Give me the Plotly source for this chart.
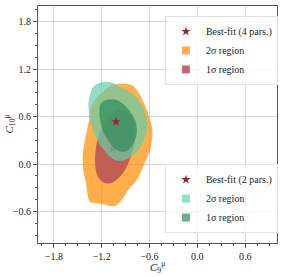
import plotly.graph_objects as go

# ---- data ----
orange_x = [-1.011, -0.823, -0.76, -0.677, -0.634, -0.572, -0.564, -0.593, -0.634, -0.697,
            -0.76, -0.866, -0.948, -1.033, -1.2, -1.347, -1.376, -1.397, -1.431, -1.439,
            -1.418, -1.388, -1.359, -1.347, -1.284, -1.158, -1.074]
orange_y = [1.013, 1.0, 0.937, 0.789, 0.684, 0.472, 0.367, 0.177, 0.072, -0.076,
            -0.203, -0.329, -0.456, -0.532, -0.506, -0.477, -0.392, -0.244, -0.076, 0.092,
            0.262, 0.409, 0.557, 0.684, 0.81, 0.937, 1.0]

red_x = [-0.991, -0.886, -0.815, -0.781, -0.79, -0.832, -0.886, -0.97, -1.074, -1.158,
         -1.234, -1.275, -1.284, -1.271, -1.234, -1.167, -1.095, -1.041]
red_y = [0.692, 0.65, 0.557, 0.409, 0.262, 0.101, -0.034, -0.161, -0.237, -0.244,
         -0.181, -0.076, 0.072, 0.219, 0.367, 0.515, 0.62, 0.675]

teal_x = [-1.347, -1.305, -1.221, -1.137, -1.054, -0.991, -0.844, -0.74, -0.677, -0.634,
          -0.634, -0.677, -0.74, -0.844, -0.948, -1.054, -1.137, -1.221, -1.284, -1.334,
          -1.359, -1.368]
teal_y = [0.873, 0.979, 1.029, 1.042, 1.021, 0.987, 0.915, 0.81, 0.705, 0.557,
          0.409, 0.282, 0.177, 0.085, 0.042, 0.06, 0.135, 0.24, 0.367, 0.494,
          0.642, 0.768]

green_x = [-1.209, -1.137, -1.054, -0.97, -0.886, -0.815, -0.769, -0.76, -0.79, -0.844,
           -0.916, -0.991, -1.062, -1.124, -1.18, -1.217, -1.23]
green_y = [0.768, 0.81, 0.819, 0.789, 0.718, 0.62, 0.515, 0.389, 0.282, 0.199,
           0.156, 0.165, 0.219, 0.304, 0.409, 0.536, 0.662]

best4 = (-1.06, 0.19)
best2 = (-1.02, 0.535)

tick_vals = [-1.8, -1.2, -0.6, 0.0, 0.6, 1.2, 1.8]
tick_text = ["\u22121.8", "\u22121.2", "\u22120.6", "0.0", "0.6", "1.2", "1.8"]

FONT = "Liberation Serif"
STAR = "#a3212b"
C_ORANGE = "rgba(255,140,0,0.7)"
C_RED = "rgba(185,80,88,0.85)"
C_TEAL = "rgba(102,205,170,0.7)"
C_GREEN = "rgba(46,139,87,0.7)"

fig = go.Figure()

def region(xs, ys, color):
    fig.add_trace(go.Scatter(
        x=xs + xs[:1], y=ys + ys[:1], mode="lines", fill="toself",
        line=dict(width=0, shape="spline", smoothing=1.0),
        fillcolor=color, showlegend=False, hoverinfo="skip"))

def legend_square(color, name, legend, rank):
    fig.add_trace(go.Scatter(
        x=[None], y=[None], mode="markers",
        marker=dict(symbol="square", size=8, color=color, line=dict(width=0)),
        name=name, legend=legend, legendrank=rank))

def star(pt, name, legend, rank):
    fig.add_trace(go.Scatter(
        x=[pt[0]], y=[pt[1]], mode="markers",
        marker=dict(symbol="star", size=7, color=STAR, line=dict(width=0)),
        name=name, legend=legend, legendrank=rank))

region(orange_x, orange_y, C_ORANGE)
region(red_x, red_y, C_RED)
star(best4, "Best-fit (4 pars.)", "legend", 1)
region(teal_x, teal_y, C_TEAL)
region(green_x, green_y, C_GREEN)
star(best2, "Best-fit (2 pars.)", "legend2", 1)
legend_square(C_ORANGE, "2\u03c3 region", "legend", 2)
legend_square(C_RED, "1\u03c3 region", "legend", 3)
legend_square(C_TEAL, "2\u03c3 region", "legend2", 2)
legend_square(C_GREEN, "1\u03c3 region", "legend2", 3)

axis_common = dict(
    tickvals=tick_vals, ticktext=tick_text, automargin=False,
    showgrid=True, gridcolor="#d6d6d6", gridwidth=1,
    zeroline=False, showline=True, linecolor="#555555", linewidth=1, mirror=True,
    ticks="outside", ticklen=4, tickwidth=1, tickcolor="#555555",
    tickfont=dict(family=FONT, size=10, color="#222222"),
    minor=dict(dtick=0.15, tick0=0, ticks="outside", ticklen=2, tickwidth=0.8,
               tickcolor="#555555", showgrid=False),
)

fig.update_xaxes(range=[-2, 1], **axis_common)
fig.update_yaxes(range=[-1, 2], **axis_common)

fig.add_annotation(text="<i>C</i><sub>9</sub><sup>\u03bc</sup>", xref="paper", yref="paper",
                   x=0.5, y=0, yanchor="top", yshift=-14, showarrow=False,
                   font=dict(family=FONT, size=11, color="#222222"))
fig.add_annotation(text="<i>C</i><sub>10</sub><sup>\u03bc</sup>", xref="paper", yref="paper",
                   x=0, y=0.5, xanchor="center", xshift=-29, textangle=-90, showarrow=False,
                   font=dict(family=FONT, size=11, color="#222222"))

leg_common = dict(bgcolor="rgba(255,255,255,0.8)", bordercolor="#e2e2e2", borderwidth=1,
                  font=dict(family=FONT, size=10, color="#222222"),
                  xanchor="left", traceorder="normal", itemwidth=30, tracegroupgap=0)

fig.update_layout(
    width=291, height=277,
    margin=dict(l=38, r=14, t=6, b=34, autoexpand=False),
    paper_bgcolor="white", plot_bgcolor="white",
    showlegend=True,
    legend=dict(x=0.531, y=0.958, yanchor="top", **leg_common),
    legend2=dict(x=0.531, y=0.042, yanchor="bottom", **leg_common),
    font=dict(family=FONT),
)

fig.write_html("out.html", config={"displayModeBar": False},
               post_script="document.body.style.margin='0px';document.body.style.overflow='hidden';")
